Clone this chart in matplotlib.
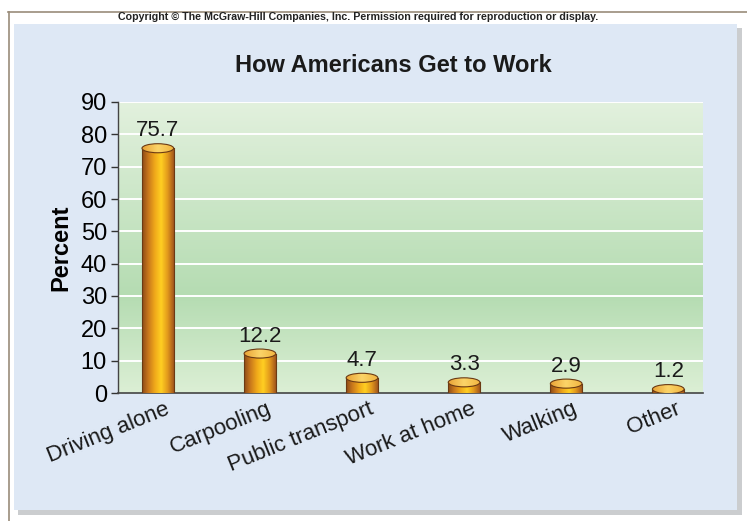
import numpy as np
import matplotlib.pyplot as plt
from matplotlib.patches import Rectangle, Ellipse
from matplotlib.lines import Line2D
from matplotlib.colors import LinearSegmentedColormap

# data
categories = ['Driving alone', 'Carpooling', 'Public transport', 'Work at home', 'Walking', 'Other']
percents = [75.7, 12.2, 4.7, 3.3, 2.9, 1.2]
yticks = [0, 10, 20, 30, 40, 50, 60, 70, 80, 90]

plt.rcParams['font.family'] = ['Liberation Sans', 'DejaVu Sans']

W, H = 747, 521
fig = plt.figure(figsize=(W / 100, H / 100), dpi=100)
fig.patch.set_facecolor('white')

def fx(px):
    return px / W

def fy(py):
    return 1 - py / H

# outer frame lines
fig.add_artist(Line2D([fx(8), 1], [fy(12), fy(12)], color='#9a8c7a', lw=1.2))
fig.add_artist(Line2D([fx(9), fx(9)], [fy(12), 0], color='#9a8c7a', lw=1.2))

# panel with shadow
fig.patches.append(Rectangle((fx(18), fy(515)), fx(724), fy(28) - fy(515),
                             transform=fig.transFigure, facecolor='#a9acb0', alpha=0.6,
                             edgecolor='none', zorder=-2))
fig.patches.append(Rectangle((fx(14), fy(510)), fx(723), fy(24) - fy(510),
                             transform=fig.transFigure, facecolor='#dee8f5',
                             edgecolor='none', zorder=-1))

fig.text(fx(358), fy(17), 'Copyright \u00a9 The McGraw-Hill Companies, Inc. Permission required for reproduction or display.',
         ha='center', va='center', fontsize=7.7, fontweight='bold', color='#222222')

fig.text(fx(393), fy(66), 'How Americans Get to Work', ha='center', va='center',
         fontsize=17, fontweight='bold', color='#1a1a1a')

ax = fig.add_axes([fx(118), fy(393), fx(703) - fx(118), fy(102) - fy(393)])
ax.set_facecolor('none')

x = np.arange(len(categories))
xlim = (-0.39, 5.34)
ylim = (0, 90)

# green gradient background
green = LinearSegmentedColormap.from_list('g', [(0, '#dcefd5'), (0.33, '#b5dcb2'), (1, '#e3f1de')])
grad = np.linspace(0, 1, 256).reshape(-1, 1)
ax.imshow(grad, cmap=green, aspect='auto', extent=[xlim[0], xlim[1], 0, 91],
          origin='lower', zorder=0)

for t in yticks[1:]:
    ax.axhline(t, color='white', lw=1.4, zorder=1)

# cylinder bars
body = LinearSegmentedColormap.from_list('b', ['#8c4a18', '#c9781c', '#f0a81a', '#ffcf22', '#e39a1c', '#a2561c'])
top = LinearSegmentedColormap.from_list('t', ['#e9a236', '#fbd468', '#f1b540'])
hgrad = np.linspace(0, 1, 256).reshape(1, -1)
bw = 0.31
eh = 2.8
for xi, v in zip(x, percents):
    rect = Rectangle((xi - bw / 2, 0), bw, v, facecolor='none', edgecolor='none')
    ax.add_patch(rect)
    im = ax.imshow(hgrad, cmap=body, aspect='auto',
                   extent=[xi - bw / 2, xi + bw / 2, 0, v], zorder=3)
    im.set_clip_path(rect)
    ax.plot([xi - bw / 2, xi - bw / 2], [0, v], color='#6b3a14', lw=0.8, zorder=4)
    ax.plot([xi + bw / 2, xi + bw / 2], [0, v], color='#6b3a14', lw=0.8, zorder=4)
    cap = Ellipse((xi, v), bw, eh, facecolor='none', edgecolor='none')
    ax.add_patch(cap)
    im2 = ax.imshow(hgrad, cmap=top, aspect='auto',
                    extent=[xi - bw / 2, xi + bw / 2, v - eh / 2, v + eh / 2], zorder=5)
    im2.set_clip_path(cap)
    ax.add_patch(Ellipse((xi, v), bw, eh, facecolor='none', edgecolor='#6b3a14',
                         lw=0.8, zorder=6))
    ax.annotate(f'{v}', (xi, v), xytext=(0, 5), textcoords='offset points',
                ha='center', va='bottom', fontsize=16, color='#1a1a1a')

ax.set_xlim(xlim)
ax.set_ylim(ylim)
ax.set_yticks(yticks)
ax.set_yticklabels([str(t) for t in yticks], fontsize=17)
ax.tick_params(axis='y', direction='out', length=5, width=1, color='#333333', pad=3)
ax.set_xticks([])
for s in ['top', 'right']:
    ax.spines[s].set_visible(False)
ax.spines['left'].set_color('#444444')
ax.spines['bottom'].set_color('#444444')
ax.spines['left'].set_linewidth(1)
ax.spines['bottom'].set_linewidth(1.2)

for xi, lab in zip(x, categories):
    ax.annotate(lab, (xi, 0), xycoords=('data', 'axes fraction'), xytext=(5, -4),
                textcoords='offset points', ha='right', va='top', rotation=22,
                rotation_mode='anchor', fontsize=16, color='#1a1a1a')

ax.set_ylabel('Percent', fontsize=17, fontweight='bold', labelpad=6)

fig.savefig('out.png', dpi=100)
